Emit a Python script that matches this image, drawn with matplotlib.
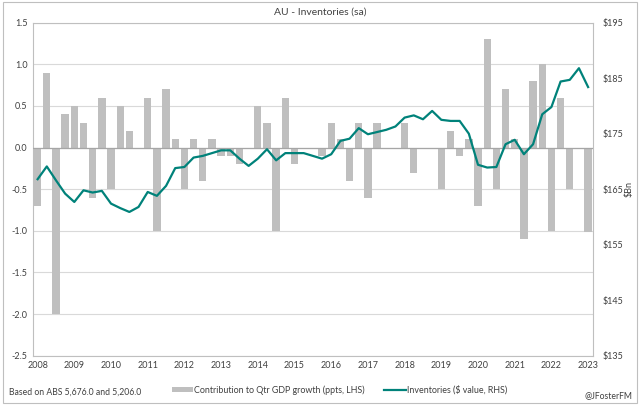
import matplotlib
matplotlib.use("Agg")
import matplotlib.pyplot as plt
from matplotlib.patches import Rectangle
from matplotlib.lines import Line2D
from matplotlib.patches import Patch

plt.rcParams['font.family'] = ['Lato', 'DejaVu Sans']

# quarterly, 2008 Q1 .. 2023 Q1
quarters = [f"{y}Q{q}" for y in range(2008, 2024) for q in range(1, 5)][:61]

# contribution to quarterly GDP growth (ppts, LHS)
contrib = [
    -0.7, 0.9, -2.0, 0.4,
    0.5, 0.3, -0.6, 0.6,
    -0.5, 0.5, 0.2, 0.0,
    0.6, -1.0, 0.7, 0.1,
    -0.5, 0.1, -0.4, 0.1,
    -0.1, -0.1, -0.2, 0.0,
    0.5, 0.3, -1.0, 0.6,
    -0.2, 0.0, 0.0, -0.1,
    0.3, 0.1, -0.4, 0.3,
    -0.6, 0.3, 0.0, 0.0,
    0.3, -0.3, 0.0, 0.0,
    -0.5, 0.2, -0.1, 0.1,
    -0.7, 1.3, -0.5, 0.7,
    0.1, -1.1, 0.8, 1.0,
    -1.0, 0.6, -0.5, 0.0,
    -1.02,
]

# inventories level ($bn, RHS)
inventories = [
    166.8, 169.1, 166.6, 164.2,
    162.7, 164.8, 164.4, 164.7,
    162.4, 161.6, 160.9, 161.8,
    164.5, 163.8, 165.6, 168.8,
    169.0, 170.7, 171.0, 171.5,
    172.0, 172.0, 170.5, 169.2,
    170.5, 172.2, 170.2, 171.5,
    171.5, 171.5, 171.0, 170.5,
    171.3, 173.7, 174.1, 176.0,
    174.9, 175.3, 175.7, 176.3,
    177.9, 178.3, 177.6, 179.1,
    177.5, 177.3, 177.3, 175.0,
    169.4, 168.9, 169.0, 173.1,
    173.9, 171.3, 173.1, 178.5,
    179.8, 184.4, 184.7, 186.8,
    183.4,
]

year_labels = [str(y) for y in range(2008, 2024)]
left_ticks = [1.5, 1.0, 0.5, 0.0, -0.5, -1.0, -1.5, -2.0, -2.5]
right_ticks = [135, 145, 155, 165, 175, 185, 195]

bar_col = '#bfbfbf'
line_col = '#00827a'
grid_col = '#d9d9d9'
txt_col = '#404040'

fig = plt.figure(figsize=(6.4, 4.05), dpi=100)
ax = fig.add_axes([0.0516, 0.1217, 0.8745, 0.8223])

x = list(range(len(quarters)))
ax.bar(x, contrib, width=0.8, color=bar_col, zorder=2)
ax.set_xlim(-0.5, len(quarters) - 0.5)
ax.set_ylim(-2.5, 1.5)
ax.set_yticks(left_ticks)
ax.set_yticklabels([f"{v:.1f}" for v in left_ticks])
ax.set_xticks(x[::4])
ax.set_xticklabels(year_labels)
ax.grid(axis='y', color=grid_col, linewidth=0.8, zorder=0)
ax.axhline(0, color='#a6a6a6', linewidth=0.9, zorder=3)
ax.tick_params(length=0, labelsize=6.5, colors=txt_col, pad=4)
for s in ax.spines.values():
    s.set_color('#bfbfbf')
    s.set_linewidth(0.8)

ax2 = ax.twinx()
ax2.plot(x, inventories, color=line_col, linewidth=1.6, zorder=4)
ax2.set_ylim(135, 195)
ax2.set_yticks(right_ticks)
ax2.set_yticklabels([f"${v}" for v in right_ticks])
ax2.tick_params(length=0, labelsize=6.5, colors=txt_col, pad=7)
ax2.set_ylabel('$Bn', fontsize=6.5, color=txt_col, labelpad=1)
for s in ax2.spines.values():
    s.set_visible(False)

fig.text(0.5, 0.970, 'AU - Inventories (sa)', ha='center', va='center',
         fontsize=7.5, color=txt_col)

handles = [Patch(facecolor=bar_col, edgecolor='none'),
           Line2D([0], [0], color=line_col, linewidth=1.6)]
fig.legend(handles,
           ['Contribution to Qtr GDP growth (ppts, LHS)', 'Inventories ($ value, RHS)'],
           loc='center left', bbox_to_anchor=(0.268, 0.037), ncol=2, frameon=False,
           fontsize=6.4, labelcolor=txt_col, handlelength=2.4, handleheight=0.5,
           handletextpad=0.15, columnspacing=2.2, borderaxespad=0, borderpad=0)

fig.text(0.014, 0.032, 'Based on ABS 5,676.0 and 5,206.0', ha='left', va='center',
         fontsize=6.2, color=txt_col)
fig.text(0.988, 0.022, '@JFosterFM', ha='right', va='center',
         fontsize=6.2, color=txt_col)

fig.patches.append(Rectangle((0.004, 0.006), 0.992, 0.988, transform=fig.transFigure,
                             fill=False, edgecolor='#bfbfbf', linewidth=0.8))

fig.savefig('out.png', dpi=100)
